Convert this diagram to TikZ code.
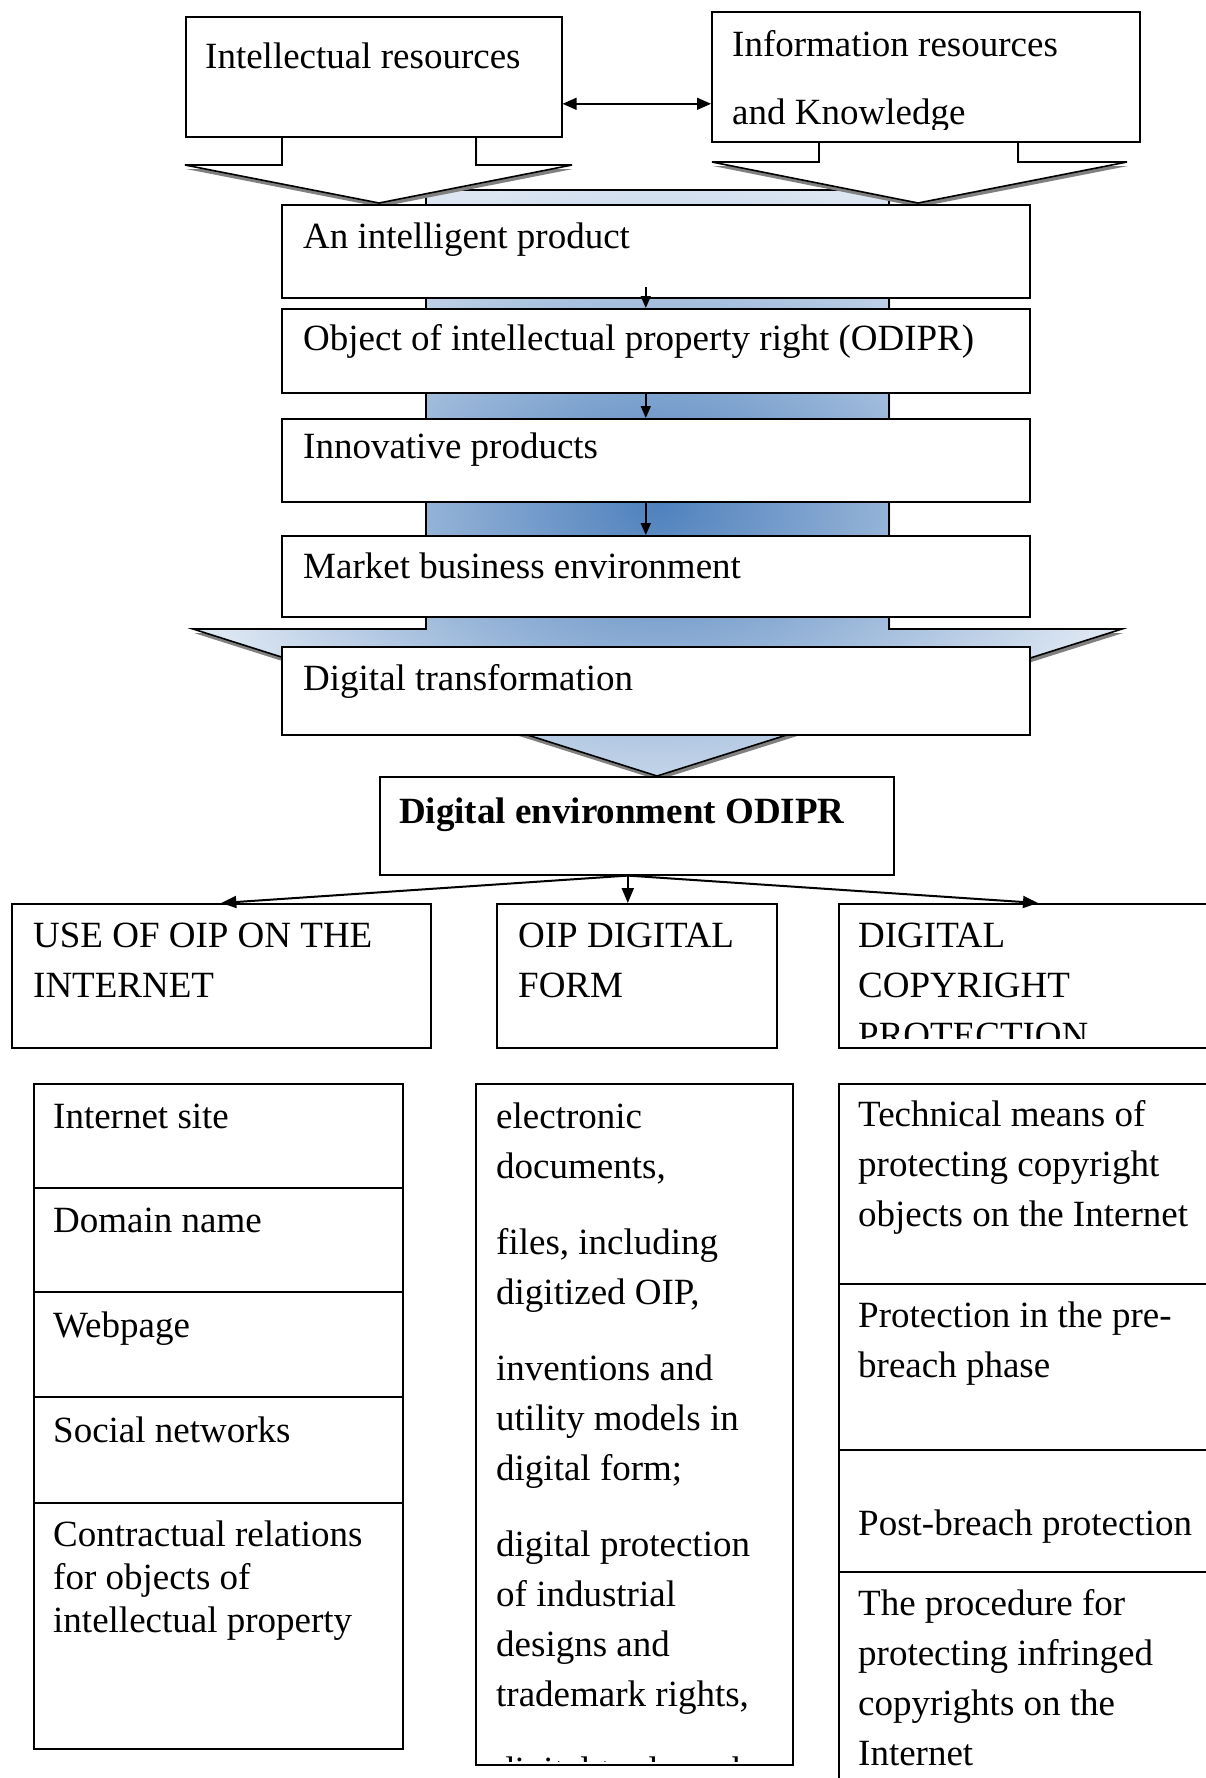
\documentclass[tikz,border=0pt]{standalone}
\usepackage{fontspec}
\setmainfont{Liberation Serif}
\usetikzlibrary{arrows.meta,shadows,positioning,calc}
\definecolor{shaftdark}{HTML}{4F81BD}
\definecolor{shaftlight}{HTML}{DCE6F2}
\newcommand{\fsingle}{\fontsize{37}{43}\selectfont}
\newcommand{\fwide}{\fontsize{37}{50}\selectfont}

\begin{document}
\begin{tikzpicture}[x=1pt,y=-1pt]
  \tikzstyle{box}=[draw=black, line width=1.6pt, fill=white, anchor=north west, inner sep=0pt]
  % multi-line texts: placed by the baseline of their last line
  \tikzstyle{txt}=[anchor=base west, inner sep=0pt, align=left, font=\fsingle]
  \tikzstyle{bigarrow}=[draw=black, line width=1.6pt, drop shadow={shadow xshift=1pt, shadow yshift=-4pt, fill=gray, opacity=1}]
  \tikzstyle{flow}=[line width=1.6pt, -{Triangle[length=12pt, width=10pt]}]
  \tikzstyle{branch}=[line width=2pt, -{Triangle[length=15pt, width=12pt]}]

  \useasboundingbox (0,0) rectangle (1206,1778);
  \fill[white] (0,0) rectangle (1206,1778);

  % Blue arrow behind the chain
  \path[bigarrow, fill=shaftlight, path picture={\shade[inner color=shaftdark, outer color=shaftlight] (657,505) ellipse (470 and 330);}]
    (426,190) -- (889,190) -- (889,629) -- (1122,629) -- (657,776) -- (193,629) -- (426,629) -- cycle;

  % White arrows from the resources
  \path[bigarrow, fill=white] (282,130) -- (282,165) -- (185,165) -- (379,203) -- (572,165) -- (476,165) -- (476,130) -- cycle;
  \path[bigarrow, fill=white] (819,135) -- (819,162) -- (712,162) -- (918,203) -- (1127,162) -- (1018,162) -- (1018,135) -- cycle;

  % Resource boxes
  \node[box, minimum width=376pt, minimum height=120pt] (intel) at (185,16) {};
  \node[box, minimum width=428pt, minimum height=130pt] (info) at (711,11) {};
  \node[txt] (intel-t) at (205,68) {Intellectual resources};
  \begin{scope}
    \clip (711,11) rectangle (1139,129);
    \node[txt, font=\fontsize{37}{68}\selectfont] (info-t) at (732,124) {Information resources\\and Knowledge};
  \end{scope}
  \draw[line width=1.6pt, {Triangle[length=14pt, width=12pt]}-{Triangle[length=14pt, width=12pt]}]
    ([yshift=-27pt]intel.east) -- ([yshift=-27pt]intel.east -| info.west);

  % Chain boxes
  \node[box, minimum width=748pt, minimum height=93pt] (prod) at (281,204) {};
  \node[box, minimum width=748pt, minimum height=84pt] (obj) at (281,308) {};
  \node[box, minimum width=748pt, minimum height=83pt] (innov) at (281,418) {};
  \node[box, minimum width=748pt, minimum height=81pt] (market) at (281,535) {};
  \node[box, minimum width=748pt, minimum height=88pt] (digtr) at (281,646) {};
  \node[box, minimum width=514pt, minimum height=98pt] (env) at (379,776) {};

  \node[txt] (prod-t) at (303,248) {An intelligent product};
  \node[txt] (obj-t) at (303,350) {Object of intellectual property right (ODIPR)};
  \node[txt] (innov-t) at (303,458) {Innovative products};
  \node[txt] (market-t) at (303,578) {Market business environment};
  \node[txt] (digtr-t) at (303,690) {Digital transformation};
  \node[txt, font=\fsingle\bfseries] (env-t) at (399,823) {Digital environment ODIPR};

  \draw[flow] ([shift={(-10,-12)}]prod.south) -- ([xshift=-10pt]obj.north);
  \draw[flow] ([xshift=-10pt]obj.south) -- ([xshift=-10pt]innov.north);
  \draw[flow] ([xshift=-10pt]innov.south) -- ([xshift=-10pt]market.north);

  % Three directions
  \node[box, minimum width=419pt, minimum height=144pt] (use) at (11,903) {};
  \node[box, minimum width=280pt, minimum height=144pt] (form) at (496,903) {};
  \node[box, minimum width=380pt, minimum height=144pt] (prot) at (838,903) {};
  \node[txt, font=\fwide] (use-t) at (33,997) {USE OF OIP ON THE\\INTERNET};
  \node[txt, font=\fwide] (form-t) at (518,997) {OIP DIGITAL\\FORM};
  \begin{scope}
    \clip (838,903) rectangle (1206,1038);
    \node[txt, font=\fwide] (prot-t) at (858,1047) {DIGITAL\\COPYRIGHT\\PROTECTION};
  \end{scope}

  \coordinate (split) at ([xshift=-9pt]env.south);
  \draw[branch] (split) -- (use.north);
  \draw[branch] (split) -- (split |- form.north);
  \draw[branch] (split) -- ([xshift=200pt]prot.north west);

  % Internet column
  \node[box, minimum width=369pt, minimum height=104pt] (site) at (33,1083) {};
  \node[box, minimum width=369pt, minimum height=104pt] (domain) at (33,1187) {};
  \node[box, minimum width=369pt, minimum height=105pt] (webpage) at (33,1291) {};
  \node[box, minimum width=369pt, minimum height=106pt] (social) at (33,1396) {};
  \node[box, minimum width=369pt, minimum height=246pt] (contract) at (33,1502) {};
  \node[txt] (site-t) at (53,1128) {Internet site};
  \node[txt] (domain-t) at (53,1232) {Domain name};
  \node[txt] (webpage-t) at (53,1337) {Webpage};
  \node[txt] (social-t) at (53,1442) {Social networks};
  \node[txt] (contract-t) at (53,1632) {Contractual relations\\for objects of\\intellectual property};

  % Digital form column
  \node[box, minimum width=317pt, minimum height=681pt] (forms) at (475,1083) {};
  \begin{scope}
    \clip (475,1083) rectangle (792,1761);
    \node[txt, font=\fwide] (forms-t) at (496,1782) {electronic\\documents,\\[26pt]files, including\\digitized OIP,\\[26pt]inventions and\\utility models in\\digital form;\\[26pt]digital protection\\of industrial\\designs and\\trademark rights,\\[26pt]digital trademarks};
  \end{scope}

  % Protection column
  \node[box, minimum width=380pt, minimum height=200pt] (means) at (838,1083) {};
  \node[box, minimum width=380pt, minimum height=166pt] (prebreach) at (838,1283) {};
  \node[box, minimum width=380pt, minimum height=122pt] (postbreach) at (838,1449) {};
  \node[box, minimum width=380pt, minimum height=230pt] (procedure) at (838,1571) {};
  \node[txt, font=\fwide] (means-t) at (858,1226) {Technical means of\\protecting copyright\\objects on the Internet};
  \node[txt, font=\fwide] (prebreach-t) at (858,1377) {Protection in the pre-\\breach phase};
  \node[txt] (postbreach-t) at (858,1535) {Post-breach protection};
  \node[txt, font=\fwide] (procedure-t) at (858,1765) {The procedure for\\protecting infringed\\copyrights on the\\Internet};
\end{tikzpicture}
\end{document}
